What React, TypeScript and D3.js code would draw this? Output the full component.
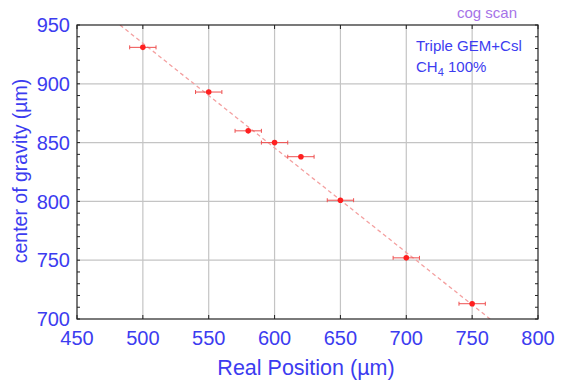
import React from "react";
import * as d3 from "d3";

const realPos = [500, 550, 580, 600, 620, 650, 700, 750];
const cog = [931, 893, 860, 850, 838, 801, 752, 713];
const xErr = [10, 10, 10, 10, 10, 10, 10, 10];
const yErr = [2, 2, 2, 2, 2, 2, 2, 2];
const fitX = [482.6, 763.6];
const fitY = [950, 700];
const xTicks = [450, 500, 550, 600, 650, 700, 750, 800];
const yTicks = [700, 750, 800, 850, 900, 950];

const W = 568, H = 380;
const L = 77, R = 538, T = 25, B = 319;
const BLUE = "#3c3cf0";
const FONT = "Liberation Sans, Arial, sans-serif";

export default function App() {
  const x = d3.scaleLinear().domain([450, 800]).range([L, R]);
  const y = d3.scaleLinear().domain([700, 950]).range([B, T]);
  const yMinor = d3.range(700, 951, 10);
  const line = d3.line<number>().x((_, i) => x(fitX[i])).y((_, i) => y(fitY[i]));
  return (
    <svg width={W} height={H} style={{ position: "absolute", left: 0, top: 0 }} fontFamily={FONT}>
      <rect width={W} height={H} fill="#fff" />
      <defs>
        <clipPath id="pc"><rect x={L} y={T} width={R - L} height={B - T} /></clipPath>
      </defs>
      {xTicks.slice(1, -1).map(t => (
        <line key={"gx" + t} x1={x(t)} x2={x(t)} y1={T} y2={B} stroke="#c4c4c4" strokeWidth={1.2} />
      ))}
      {yTicks.slice(1, -1).map(t => (
        <line key={"gy" + t} x1={L} x2={R} y1={y(t)} y2={y(t)} stroke="#c4c4c4" strokeWidth={1.2} />
      ))}
      {yMinor.map(t => (
        <g key={"my" + t}>
          <line x1={L} x2={L + 3} y1={y(t)} y2={y(t)} stroke="#222" />
          <line x1={R} x2={R - 3} y1={y(t)} y2={y(t)} stroke="#222" />
        </g>
      ))}
      {xTicks.map(t => (
        <g key={"tx" + t}>
          <line x1={x(t)} x2={x(t)} y1={B} y2={B - 4} stroke="#222" />
          <line x1={x(t)} x2={x(t)} y1={T} y2={T + 4} stroke="#222" />
        </g>
      ))}
      <path d={line([0, 1]) || ""} fill="none" stroke="#f4a0a0" strokeWidth={1.3} strokeDasharray="4,3" clipPath="url(#pc)" />
      {realPos.map((px, i) => {
        const cx = x(px), cy = y(cog[i]);
        const x1 = x(px - xErr[i]), x2 = x(px + xErr[i]);
        const y1 = y(cog[i] - yErr[i]), y2 = y(cog[i] + yErr[i]);
        return (
          <g key={"p" + i} stroke="#ee5050" strokeWidth={1}>
            <line x1={x1} x2={x2} y1={cy} y2={cy} />
            <line x1={x1} x2={x1} y1={cy - 2} y2={cy + 2} />
            <line x1={x2} x2={x2} y1={cy - 2} y2={cy + 2} />
            <line x1={cx} x2={cx} y1={y1} y2={y2} />
            <circle cx={cx} cy={cy} r={2.8} fill="#ff2020" stroke="none" />
          </g>
        );
      })}
      <rect x={L} y={T} width={R - L} height={B - T} fill="none" stroke="#222" strokeWidth={1.2} />
      {yTicks.map(t => (
        <text key={"ly" + t} x={L - 7} y={y(t)} dy="0.36em" textAnchor="end" fontSize={20} fill={BLUE}>{t}</text>
      ))}
      {xTicks.map(t => (
        <text key={"lx" + t} x={x(t)} y={345} textAnchor="middle" fontSize={20} fill={BLUE}>{t}</text>
      ))}
      <text x={306} y={375} textAnchor="middle" fontSize={21.5} fill={BLUE}>Real Position (µm)</text>
      <text transform={`translate(27,171) rotate(-90)`} textAnchor="middle" fontSize={19.5} fill={BLUE}>center of gravity (µm)</text>
      <text x={457} y={18} fontSize={15} fill="#a673e8">cog scan</text>
      <text x={416} y={51} fontSize={15} fill={BLUE}>Triple GEM+Csl</text>
      <text x={416} y={72} fontSize={15} fill={BLUE}>CH<tspan fontSize={11} dy={4}>4</tspan><tspan dy={-4}> 100%</tspan></text>
    </svg>
  );
}
